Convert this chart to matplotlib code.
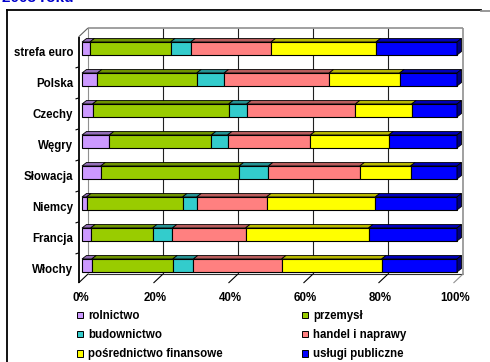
import matplotlib.pyplot as plt
from matplotlib.patches import Polygon, Patch
from matplotlib.lines import Line2D
from matplotlib.colors import to_rgb
from matplotlib.transforms import ScaledTranslation

plt.rcParams['font.family'] = ['Liberation Sans', 'DejaVu Sans']

# udział sektorów w wartości dodanej (%), kolejność od góry wykresu
kraje = ['strefa euro', 'Polska', 'Czechy', 'Węgry', 'Słowacja', 'Niemcy', 'Francja', 'Włochy']
rolnictwo = [2.1, 4.1, 2.8, 7.3, 5.0, 1.2, 2.3, 2.6]
przemysl = [21.5, 26.5, 36.3, 27.2, 36.9, 25.6, 16.5, 21.6]
budownictwo = [5.4, 7.3, 4.8, 4.3, 7.8, 3.8, 5.3, 5.5]
handel = [21.4, 28.0, 29.0, 22.1, 24.4, 18.6, 19.5, 23.5]
posrednictwo = [28.0, 18.8, 15.0, 20.9, 13.5, 29.0, 32.8, 26.7]
uslugi = [21.6, 15.3, 12.1, 18.2, 12.4, 21.8, 23.6, 20.1]

sektory = ['rolnictwo', 'przemysł', 'budownictwo', 'handel i naprawy',
           'pośrednictwo finansowe', 'usługi publiczne']
serie = [rolnictwo, przemysl, budownictwo, handel, posrednictwo, uslugi]
kolory = ['#CC99FF', '#99CC00', '#33CCCC', '#FF8080', '#FFFF00', '#0000FF']
procenty = [0, 20, 40, 60, 80, 100]

FS = 8.3
W, H = 490, 362
fig = plt.figure(figsize=(W / 100, H / 100), dpi=100)

def fx(px):
    return px / W

def fy(py):
    return 1 - py / H

# osie = przednia płaszczyzna słupków
ax = fig.add_axes([fx(82), fy(280), 375 / W, 246 / H])
y0, y1 = -0.468, 7.468
ax.set_xlim(0, 100)
ax.set_ylim(y0, y1)
PX = 100 / 375          # jednostki danych na piksel (x)
PY = (y1 - y0) / 246    # jednostki danych na piksel (y)

# przesunięcia płaszczyzn 3D (tylna ściana, przód podłogi, głębokość słupka)
bx, by = 6 * PX, 6 * PY
fxo, fyo = -3.5 * PX, -3 * PY
ddx, ddy = 4.5 * PX, 3.5 * PY

def line(xs, ys, color='black', lw=0.8):
    ax.plot(xs, ys, color=color, lw=lw, zorder=1, clip_on=False,
            solid_capstyle='butt')

# tylna ściana z liniami siatki
for v in procenty[1:-1]:
    line([v + bx] * 2, [y0 + by, y1 + by], color='#202020')
line([100 + bx] * 2, [y0 + by, y1 + by], color='#909090', lw=1.2)
line([bx, 100 + bx], [y1 + by] * 2, color='#909090', lw=1.2)
line([bx, bx], [y0 + by, y1 + by], color='#909090')
# podłoga
line([bx, 100 + bx], [y0 + by] * 2, color='#303030')
for v in procenty:
    line([v + bx, v + fxo], [y0 + by, y0 + fyo],
         color='#909090' if v == 100 else 'black')
# lewa ściana
line([fxo, fxo], [y0 + fyo, y1 + fyo], color='black', lw=1.3)
line([fxo, bx], [y1 + fyo, y1 + by], color='#606060')
for k in range(len(kraje) - 1):
    yb = k + 0.5 + fyo
    line([fxo - 3 * PX, fxo], [yb - 1 * PY, yb], color='black')

# słupki skumulowane
ypos = [len(kraje) - 1 - i for i in range(len(kraje))]
h = 0.42
lewe = [0.0] * len(kraje)
for j, (vals, kol) in enumerate(zip(serie, kolory)):
    ciemny = tuple(c * 0.72 for c in to_rgb(kol))
    for y, l, w in zip(ypos, lewe, vals):
        top = y + h / 2
        ax.add_patch(Polygon([(l, top), (l + w, top), (l + w + ddx, top + ddy),
                              (l + ddx, top + ddy)], closed=True,
                             facecolor=ciemny, edgecolor='black', lw=0.6,
                             zorder=3, clip_on=False))
    ax.barh(ypos, vals, left=lewe, height=h, color=kol, edgecolor='black',
            lw=0.8, zorder=4, clip_on=False)
    lewe = [a + b for a, b in zip(lewe, vals)]

# boczna ściana ostatniego segmentu
for y in ypos:
    ax.add_patch(Polygon([(100, y - h / 2), (100 + ddx, y - h / 2 + ddy),
                          (100 + ddx, y + h / 2 + ddy), (100, y + h / 2)],
                         closed=True, facecolor='#000080', edgecolor='black',
                         lw=0.6, zorder=4, clip_on=False))

for s in ax.spines.values():
    s.set_visible(False)
ax.set_yticks(ypos, kraje, fontsize=FS, fontweight='bold')
ax.set_xticks(procenty, [f'{v}%' for v in procenty], fontsize=FS,
              fontweight='bold')
ax.tick_params(axis='y', length=0, pad=6.3)
ax.tick_params(axis='x', length=0, pad=8.5)
for t in ax.get_yticklabels():
    t.set_transform(t.get_transform() + ScaledTranslation(0, -0.03, fig.dpi_scale_trans))
for t in ax.get_xticklabels():
    t.set_transform(t.get_transform() + ScaledTranslation(-0.015, 0, fig.dpi_scale_trans))

# legenda w układzie wierszowym (dwie kolumny)
uchwyty = [Patch(facecolor=c, edgecolor='black', lw=0.7) for c in kolory]
kolej = [0, 2, 4, 1, 3, 5]
fig.legend([uchwyty[i] for i in kolej], [sektory[i] for i in kolej],
           loc='upper left', bbox_to_anchor=(fx(77), fy(310)), ncol=2,
           frameon=False, prop={'size': FS, 'weight': 'bold'},
           handlelength=0.52, handleheight=0.52, handletextpad=0.43,
           columnspacing=6.9, labelspacing=0.62, borderpad=0,
           borderaxespad=0)

# ramka obszaru wykresu
fig.add_artist(Line2D([fx(7), fx(7)], [fy(10), 0], color='black', lw=1.3))
fig.add_artist(Line2D([fx(7), fx(481)], [fy(10), fy(10)], color='black', lw=1.3))
fig.add_artist(Line2D([fx(481), 1], [fy(10.5), fy(10.5)], color='#909090', lw=1.3))

fig.text(fx(74), fy(2.2), '2003 roku', ha='right', va='baseline',
         color='#0000CC', fontsize=11, fontweight='bold')

fig.savefig('out.png', dpi=100)
